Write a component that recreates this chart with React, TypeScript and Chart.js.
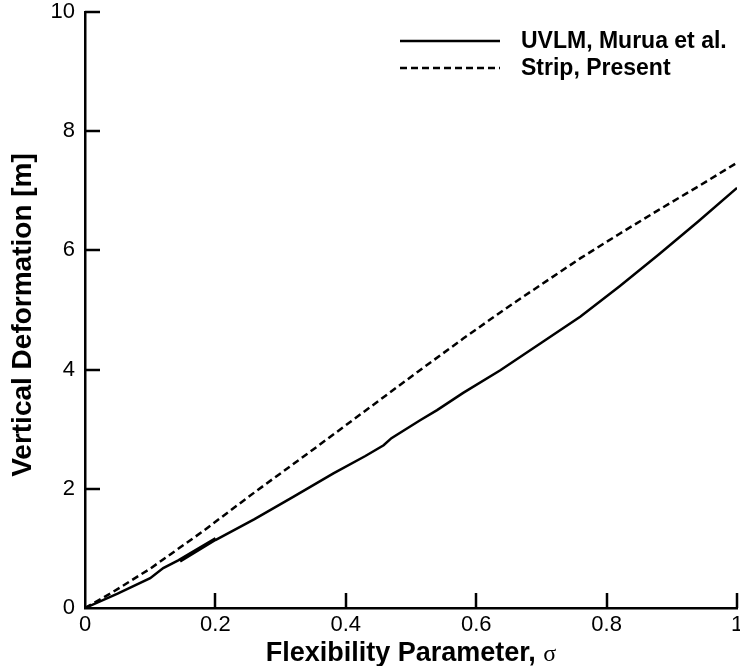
import React, { useEffect, useRef } from "react";
import { Chart, registerables } from "chart.js";

Chart.register(...registerables);

// UVLM, Murua et al. (solid)
const uvlmX = [0, 0.05, 0.1, 0.12, 0.143, 0.2, 0.146, 0.2, 0.26, 0.32, 0.381, 0.43, 0.458, 0.47, 0.514, 0.54, 0.58, 0.637, 0.7, 0.76, 0.82, 0.88, 0.94, 1.0];
const uvlmY = [0, 0.24, 0.5, 0.67, 0.8, 1.17, 0.78, 1.14, 1.49, 1.87, 2.26, 2.55, 2.73, 2.85, 3.15, 3.32, 3.61, 3.99, 4.45, 4.89, 5.4, 5.93, 6.48, 7.05];

// Strip, Present (dashed)
const stripX = [0, 0.04, 0.1, 0.18, 0.26, 0.35, 0.43, 0.51, 0.58, 0.65, 0.76, 0.82, 0.88, 0.94, 1.0];
const stripY = [0, 0.25, 0.66, 1.28, 1.94, 2.66, 3.31, 3.96, 4.52, 5.06, 5.87, 6.28, 6.68, 7.07, 7.47];

const xTickValues = [0, 0.2, 0.4, 0.6, 0.8, 1];
const yTickValues = [0, 2, 4, 6, 8, 10];

const seriesLabels = ["UVLM, Murua et al.", "Strip, Present"];
const xTitle = "Flexibility Parameter, ";
const xTitleSymbol = "σ";
const yTitle = "Vertical Deformation [m]";

const FONT = "'Liberation Sans', Arial, Helvetica, sans-serif";

const zeroPad = (scale: any) => {
  scale.paddingLeft = 0;
  scale.paddingRight = 0;
  scale.paddingTop = 0;
  scale.paddingBottom = 0;
};

const decorPlugin = {
  id: "decor",
  afterDraw(chart: any) {
    const ctx = chart.ctx;
    const xs = chart.scales.x;
    const ys = chart.scales.y;
    const area = chart.chartArea;
    ctx.save();
    // inward ticks
    ctx.strokeStyle = "#000";
    ctx.lineWidth = 2.5;
    ctx.setLineDash([]);
    const tl = 15;
    xTickValues.forEach((v) => {
      if (v === 0) return;
      const px = Math.round(xs.getPixelForValue(v));
      ctx.beginPath();
      ctx.moveTo(px, area.bottom);
      ctx.lineTo(px, area.bottom - tl);
      ctx.stroke();
    });
    yTickValues.forEach((v) => {
      if (v === 0) return;
      const py = Math.round(ys.getPixelForValue(v));
      ctx.beginPath();
      ctx.moveTo(area.left, py);
      ctx.lineTo(area.left + tl, py);
      ctx.stroke();
    });

    // legend
    const lx0 = 400, lx1 = 500, tx = 521;
    const rows = [41, 68];
    ctx.lineWidth = 2.5;
    ctx.font = `bold 23px ${FONT}`;
    ctx.fillStyle = "#000";
    ctx.textBaseline = "middle";
    ctx.textAlign = "left";
    rows.forEach((y, i) => {
      ctx.setLineDash(i === 0 ? [] : [7, 4]);
      ctx.beginPath();
      ctx.moveTo(lx0, y);
      ctx.lineTo(lx1, y);
      ctx.stroke();
      ctx.fillText(seriesLabels[i], tx, y + 1);
    });
    ctx.setLineDash([]);

    // x title
    ctx.textBaseline = "alphabetic";
    ctx.font = `bold 27px ${FONT}`;
    const w1 = ctx.measureText(xTitle).width;
    ctx.font = `24px 'Liberation Serif', 'DejaVu Serif', serif`;
    const w2 = ctx.measureText(xTitleSymbol).width;
    const cx = (area.left + area.right) / 2;
    const start = cx - (w1 + w2) / 2;
    ctx.font = `bold 27px ${FONT}`;
    ctx.fillText(xTitle, start, 661);
    ctx.font = `24px 'Liberation Serif', 'DejaVu Serif', serif`;
    ctx.fillText(xTitleSymbol, start + w1, 661);

    // y title
    ctx.save();
    ctx.translate(23, 315);
    ctx.rotate(-Math.PI / 2);
    ctx.font = `bold 28px ${FONT}`;
    ctx.textAlign = "center";
    ctx.textBaseline = "middle";
    ctx.fillText(yTitle, 0, 0);
    ctx.restore();

    ctx.restore();
  },
};

export default function App() {
  const ref = useRef<HTMLCanvasElement | null>(null);
  useEffect(() => {
    if (!ref.current) return;
    const chart = new Chart(ref.current, {
      type: "line",
      data: {
        datasets: [
          {
            label: seriesLabels[0],
            data: uvlmX.map((x, i) => ({ x, y: uvlmY[i] })),
            borderColor: "#000",
            borderWidth: 2.5,
            pointRadius: 0,
            tension: 0,
            fill: false,
          },
          {
            label: seriesLabels[1],
            data: stripX.map((x, i) => ({ x, y: stripY[i] })),
            borderColor: "#000",
            borderWidth: 2.5,
            borderDash: [7, 4],
            pointRadius: 0,
            tension: 0,
            fill: false,
          },
        ],
      },
      options: {
        animation: false,
        responsive: false,
        devicePixelRatio: 1,
        layout: { padding: { top: 12, right: 3, left: 0, bottom: 0 } },
        plugins: {
          legend: { display: false },
          tooltip: { enabled: false },
        },
        scales: {
          x: {
            type: "linear",
            min: 0,
            max: 1,
            afterBuildTicks: (scale: any) => {
              scale.ticks = xTickValues.map((v) => ({ value: v }));
            },
            ticks: {
              color: "#000",
              font: { family: FONT, size: 22 },
              padding: 4,
              maxRotation: 0,
              autoSkip: false,
              callback: (v: any) => String(Number(Number(v).toFixed(1))),
            },
            grid: { display: false, drawTicks: false },
            border: { display: true, color: "#000", width: 2.5 },
            afterFit: (scale: any) => {
              scale.height = 58;
              zeroPad(scale);
            },
          },
          y: {
            type: "linear",
            min: 0,
            max: 10,
            afterBuildTicks: (scale: any) => {
              scale.ticks = yTickValues.map((v) => ({ value: v }));
            },
            ticks: {
              color: "#000",
              font: { family: FONT, size: 22 },
              padding: 10,
              autoSkip: false,
              callback: (v: any) => String(v),
            },
            grid: { display: false, drawTicks: false },
            border: { display: true, color: "#000", width: 2.5 },
            afterFit: (scale: any) => {
              scale.width = 85;
              zeroPad(scale);
            },
          },
        },
      },
      plugins: [decorPlugin],
    });
    return () => chart.destroy();
  }, []);
  return (
    <div style={{ position: "absolute", left: 0, top: 0, width: 740, height: 666, background: "#fff" }}>
      <canvas ref={ref} width={740} height={666} />
    </div>
  );
}
